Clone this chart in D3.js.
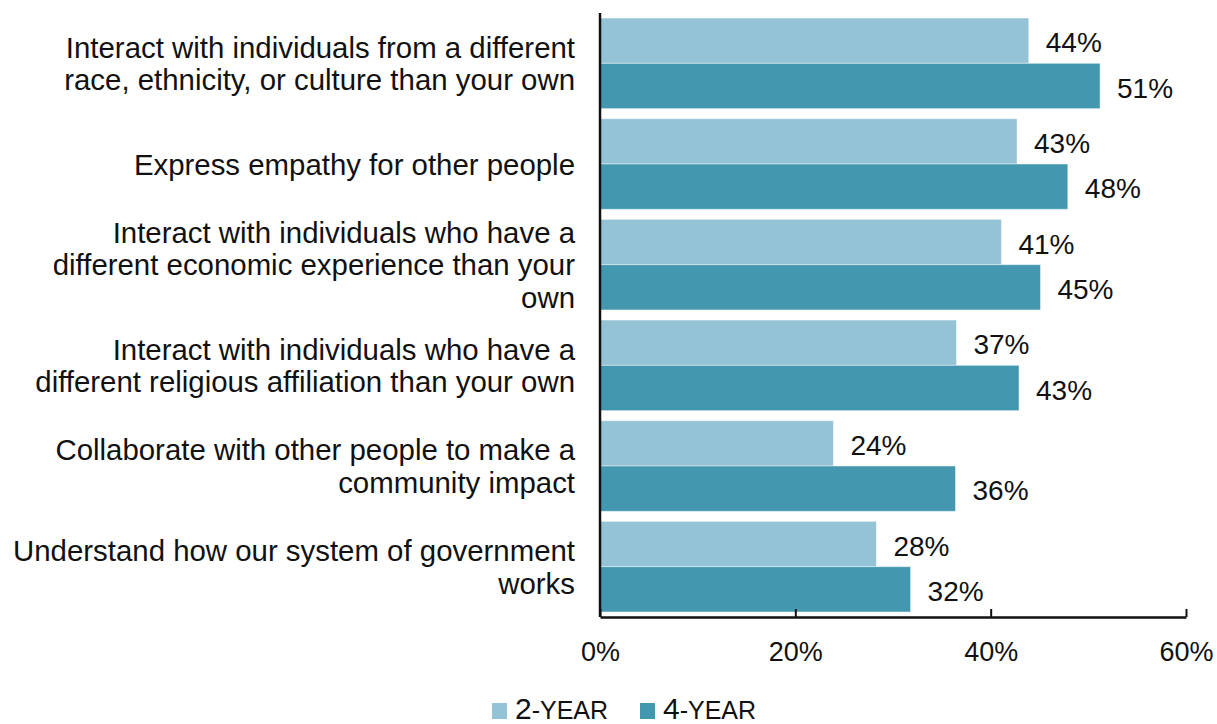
<!DOCTYPE html>
<html>
<head>
<meta charset="utf-8">
<script src="https://cdn.jsdelivr.net/npm/d3@7"></script>
<style>
  html, body { margin: 0; padding: 0; background: #fff; }
  svg { display: block; font-family: "Liberation Sans", Arial, sans-serif; }
</style>
</head>
<body>
<div id="chart"></div>
<script>
// ---- Data ----
const categories = [
  ["Interact with individuals from a different", "race, ethnicity, or culture than your own"],
  ["Express empathy for other people"],
  ["Interact with individuals who have a", "different economic experience than your", "own"],
  ["Interact with individuals who have a", "different religious affiliation than your own"],
  ["Collaborate with other people to make a", "community impact"],
  ["Understand how our system of government", "works"]
];
const twoYear = [43.9, 42.7, 41.1, 36.5, 23.9, 28.3];
const fourYear = [51.2, 47.9, 45.1, 42.9, 36.4, 31.8];
const seriesNames = ["2-YEAR", "4-YEAR"];
const xTicks = [0, 20, 40, 60];

const colors = ["#93c3d4", "#4398b0"];

const width = 1217, height = 724;
const plot = { left: 600, right: 1186, top: 13, bottom: 617 };

const svg = d3.select('#chart').append('svg')
  .attr('width', width).attr('height', height);

// ---- Scales ----
const x = d3.scaleLinear().domain([0, 60]).range([plot.left, plot.right]);
const y = d3.scaleBand().domain(d3.range(categories.length))
  .range([plot.top, plot.bottom]).paddingInner(0.1).paddingOuter(0.05);
const sub = d3.scaleBand().domain([0, 1]).range([0, y.bandwidth()]);

const rows = categories.map((c, i) => ({ i, vals: [twoYear[i], fourYear[i]] }));

// ---- Bars ----
const groups = svg.append('g').selectAll('g').data(rows).join('g')
  .attr('transform', d => `translate(0,${y(d.i)})`);

groups.selectAll('rect').data(d => d.vals.map((v, k) => ({ v, k }))).join('rect')
  .attr('x', x(0))
  .attr('y', d => sub(d.k))
  .attr('width', d => x(d.v) - x(0))
  .attr('height', sub.bandwidth())
  .attr('fill', d => colors[d.k])
  .attr('stroke', 'rgba(255,255,255,0.45)')
  .attr('stroke-width', 1);

groups.selectAll('text.val').data(d => d.vals.map((v, k) => ({ v, k }))).join('text')
  .attr('class', 'val')
  .attr('x', d => x(d.v) + 17)
  .attr('y', d => sub(d.k) + sub.bandwidth() / 2)
  .attr('dy', '0.42em')
  .attr('font-size', 28)
  .attr('fill', '#111')
  .text(d => `${Math.round(d.v)}%`);

// ---- Category labels ----
const lineH = 32.5;
svg.append('g').selectAll('text').data(categories).join('text')
  .attr('text-anchor', 'end')
  .attr('font-size', 29.4)
  .attr('fill', '#111')
  .each(function (lines, i) {
    const cy = y(i) + y.bandwidth() / 2;
    const t = d3.select(this);
    lines.forEach((ln, j) => {
      t.append('tspan')
        .attr('x', 575)
        .attr('y', cy + (j - (lines.length - 1) / 2) * lineH)
        .attr('dy', '0.36em')
        .text(ln);
    });
  });

// ---- Axes ----
const xAxis = d3.axisBottom(x).tickValues(xTicks).tickFormat(d => `${d}%`)
  .tickSizeInner(-8).tickSizeOuter(0).tickPadding(25);

const ax = svg.append('g')
  .attr('transform', `translate(0,${plot.bottom})`)
  .call(xAxis);
ax.select('.domain').attr('stroke', '#111').attr('stroke-width', 2.5);
ax.selectAll('.tick line').attr('stroke', '#111').attr('stroke-width', 2);
ax.selectAll('.tick text').attr('font-size', 27).attr('fill', '#111')
  .attr('font-family', '"Liberation Sans", Arial, sans-serif');

svg.append('line')
  .attr('x1', plot.left).attr('x2', plot.left)
  .attr('y1', plot.top).attr('y2', plot.bottom)
  .attr('stroke', '#111').attr('stroke-width', 2.5);

// ---- Legend ----
const legendX = [492, 640];
const legend = svg.append('g').selectAll('g').data(seriesNames).join('g')
  .attr('transform', (d, i) => `translate(${legendX[i]},703)`);
legend.append('rect').attr('width', 15).attr('height', 16).attr('fill', (d, i) => colors[i]);
const lt = legend.append('text').attr('x', 23).attr('y', 16).attr('fill', '#111');
lt.append('tspan').attr('font-size', 30).text(d => d.split('-')[0]);
lt.append('tspan').attr('font-size', 25).text(d => '-' + d.split('-')[1]);
</script>
</body>
</html>
